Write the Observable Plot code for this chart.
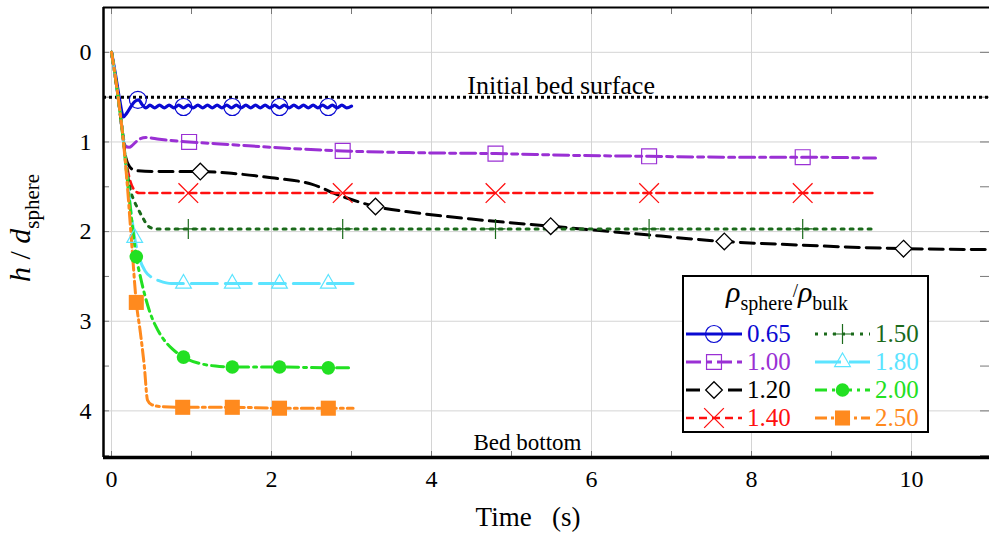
<!DOCTYPE html>
<html><head><meta charset="utf-8">
<script src="https://cdn.jsdelivr.net/npm/d3@7"></script>
<script src="https://cdn.jsdelivr.net/npm/@observablehq/plot@0.6"></script>
<style>
body{margin:0;background:#fff;}
#chart{position:relative;width:989px;height:533px;overflow:hidden;}
#chart svg text, #chart svg tspan{font-family:'Liberation Serif','Times New Roman',serif !important;}
</style></head><body><div id="chart"></div>
<script>
// ---- series names ----
const seriesNames = ["0.65","1.00","1.20","1.40","1.50","1.80","2.00","2.50"];

// ---- curves (time s, h/d_sphere) ----
const t065 = [0,0.05,0.1,0.15,0.19,0.24,0.29,0.34,0.38,0.43,0.48,0.54,0.60,0.66,0.72,0.78,0.84,0.90,0.96,1.02,1.08,1.14,1.20,1.26,1.32,1.38,1.44,1.50,1.56,1.62,1.68,1.74,1.80,1.86,1.92,1.98,2.04,2.10,2.16,2.22,2.28,2.34,2.40,2.46,2.52,2.58,2.64,2.70,2.76,2.82,2.88,2.94,3.00];
const h065 = [0,0.25,0.52,0.72,0.68,0.61,0.55,0.53,0.58,0.62,0.59,0.62,0.59,0.62,0.59,0.62,0.59,0.62,0.59,0.62,0.59,0.62,0.59,0.62,0.59,0.62,0.59,0.62,0.59,0.62,0.59,0.62,0.59,0.62,0.59,0.62,0.59,0.62,0.59,0.62,0.59,0.62,0.59,0.62,0.59,0.62,0.59,0.62,0.59,0.62,0.59,0.62,0.60];
const t100 = [0,0.06,0.1,0.14,0.17,0.22,0.27,0.33,0.43,0.6,0.97,1.5,2.0,2.89,3.8,4.8,5.8,6.72,7.7,8.64,9.55];
const h100 = [0,0.35,0.62,0.9,1.04,1.06,1.03,0.98,0.95,0.97,1.0,1.03,1.06,1.1,1.12,1.13,1.15,1.16,1.17,1.17,1.18];
const t120 = [0,0.06,0.1,0.14,0.18,0.23,0.3,0.6,1.11,1.5,2.0,2.5,2.86,3.3,3.8,4.5,5.49,6.5,7.66,8.6,9.9,11.0];
const h120 = [0,0.35,0.62,0.92,1.18,1.28,1.32,1.33,1.33,1.35,1.4,1.47,1.6,1.72,1.79,1.86,1.94,2.02,2.11,2.15,2.19,2.2];
const t140 = [0,0.06,0.1,0.14,0.19,0.24,0.29,0.35,0.96,2.89,4.8,6.72,8.64,9.55];
const h140 = [0,0.35,0.62,0.92,1.25,1.45,1.54,1.57,1.57,1.57,1.57,1.57,1.57,1.57];
const t150 = [0,0.06,0.1,0.14,0.19,0.24,0.28,0.34,0.4,0.46,0.55,0.96,2.89,4.8,6.72,8.64,9.55];
const h150 = [0,0.35,0.62,0.92,1.3,1.55,1.65,1.76,1.86,1.94,1.97,1.97,1.97,1.97,1.97,1.97,1.97];
const t180 = [0,0.06,0.1,0.14,0.19,0.24,0.29,0.35,0.42,0.5,0.6,0.75,0.9,1.51,2.1,2.71,3.02];
const h180 = [0,0.35,0.62,0.92,1.35,1.75,2.07,2.3,2.44,2.51,2.55,2.58,2.58,2.58,2.58,2.58,2.58];
const t200 = [0,0.06,0.1,0.14,0.19,0.25,0.31,0.36,0.42,0.48,0.55,0.65,0.75,0.9,1.1,1.3,1.51,2.1,2.71,3.02];
const h200 = [0,0.35,0.62,0.92,1.35,1.85,2.28,2.5,2.72,2.9,3.05,3.2,3.3,3.4,3.47,3.5,3.51,3.51,3.52,3.52];
const t250 = [0,0.06,0.1,0.14,0.19,0.25,0.31,0.36,0.41,0.45,0.5,0.6,0.89,1.51,2.1,2.71,3.02];
const h250 = [0,0.35,0.62,0.92,1.4,2.1,2.79,3.12,3.5,3.88,3.93,3.95,3.96,3.96,3.97,3.97,3.97];

// ---- marker positions ----
const mt065 = [0.33,0.9,1.51,2.1,2.71],      mh065 = [0.53,0.61,0.61,0.61,0.61];
const mt100 = [0.97,2.89,4.8,6.72,8.64],     mh100 = [1.0,1.1,1.13,1.16,1.17];
const mt120 = [1.11,3.3,5.49,7.66,9.9],      mh120 = [1.33,1.72,1.94,2.11,2.19];
const mt140 = [0.96,2.89,4.8,6.72,8.64],     mh140 = [1.57,1.57,1.57,1.57,1.57];
const mt150 = [0.96,2.89,4.8,6.72,8.64],     mh150 = [1.97,1.97,1.97,1.97,1.97];
const mt180 = [0.29,0.9,1.51,2.1,2.71],      mh180 = [2.07,2.58,2.58,2.58,2.58];
const mt200 = [0.31,0.9,1.51,2.1,2.71],      mh200 = [2.28,3.4,3.51,3.51,3.52];
const mt250 = [0.31,0.89,1.51,2.1,2.71],     mh250 = [2.79,3.96,3.96,3.97,3.97];

// ---- ticks and annotations ----
const xTicks = [0,2,4,6,8,10];
const xMinor = [0,1,2,3,4,5,6,7,8,9,10];
const yTicks = [0,1,2,3,4];
const yMinor = [0,0.5,1,1.5,2,2.5,3,3.5,4,4.5];
const bedSurface = [0.5];
const noteLabels = ["Initial bed surface","Bed bottom"];
const noteT = [5.62,5.2];
const noteH = [0.37,4.35];

// ---- styles ----
const colors = ["#0a0ad2","#9a30d4","#000000","#ff1010","#1b6a1b","#5ce4ff","#22e022","#ff8a1e"];
const dashes = [null,"15,5,6,5","14,7","8,5","3,6","26,8","12,5,3,5","12,4,3,4"];
const widths = [3.2,3,3,2.6,3,3,3,3];
const symbols = ["circle","square2","diamond2","times","plus","triangle2","circle","square"];
const symRadius = [8.5,9.5,7.5,9,6.5,7.5,6.8,8.5];
const symFill = ["none","none","white","none","none","none","#22e022","#ff8a1e"];
const symStroke = [1.2,1.2,1.3,1.3,1.2,1.2,0,0];

const T = [t065,t100,t120,t140,t150,t180,t200,t250];
const H = [h065,h100,h120,h140,h150,h180,h200,h250];
const MT = [mt065,mt100,mt120,mt140,mt150,mt180,mt200,mt250];
const MH = [mh065,mh100,mh120,mh140,mh150,mh180,mh200,mh250];

const FONT = "'Liberation Serif', 'Times New Roman', serif";
const lineMarks = [], dotMarks = [];
seriesNames.forEach((name,i)=>{
  const data = T[i].map((t,j)=>({t, h:H[i][j]}));
  const mk = MT[i].map((t,j)=>({t, h:MH[i][j]}));
  lineMarks.push(Plot.line(data,{x:"t",y:"h",stroke:colors[i],strokeWidth:widths[i],
    strokeDasharray:dashes[i]||undefined,curve:"monotone-x",clip:true}));
  dotMarks.push(Plot.dot(mk,{x:"t",y:"h",symbol:symbols[i],r:symRadius[i],
    stroke: symFill[i]==="none"||symFill[i]==="white"?colors[i]:"none",
    fill:symFill[i],strokeWidth:symStroke[i]}));
});
const notes = noteLabels.map((label,i)=>({label,t:noteT[i],h:noteH[i]}));

const plot = Plot.plot({
  width:989, height:533,
  marginLeft:103, marginRight:0, marginTop:7, marginBottom:76,
  style:{fontFamily:FONT, background:"white", color:"black"},
  x:{domain:[-0.1,10.975]},
  y:{domain:[-0.5,4.52], reverse:true},
  marks:[
    Plot.gridX(xTicks,{stroke:"#d4d4d4",strokeOpacity:1}),
    Plot.gridY(yTicks,{stroke:"#d4d4d4",strokeOpacity:1}),
    Plot.axisX(xMinor,{anchor:"bottom",tickSize:-6,tickFormat:()=>"",label:null,stroke:"#777"}),
    Plot.axisX(xMinor,{anchor:"top",tickSize:-6,tickFormat:()=>"",label:null,stroke:"#777"}),
    Plot.axisY(yMinor,{anchor:"left",tickSize:-6,tickFormat:()=>"",label:null,stroke:"#777"}),
    Plot.axisY(yMinor,{anchor:"right",tickSize:-10,tickFormat:()=>"",label:null,stroke:"#777"}),
    Plot.axisX(xTicks,{anchor:"bottom",tickSize:0,tickPadding:12,fontSize:24,label:null,tickFormat:d=>String(d)}),
    Plot.axisY(yTicks,{anchor:"left",tickSize:0,tickPadding:12,fontSize:24,label:null,tickFormat:d=>String(d)}),
    Plot.ruleY(bedSurface,{stroke:"black",strokeWidth:3,strokeDasharray:"3,3"}),
    Plot.text(notes,{x:"t",y:"h",text:"label",fontSize:d=>d.label==="Bed bottom"?23:26,fill:"black"}),
    ...lineMarks,
    ...dotMarks,
    Plot.ruleX([-0.1],{stroke:"black",strokeWidth:2.5}),
    Plot.ruleY([-0.5],{stroke:"black",strokeWidth:2}),
    Plot.ruleY([4.52],{stroke:"black",strokeWidth:3.5})
  ]
});
document.getElementById("chart").appendChild(plot);
const svg = d3.select(plot);

// x axis label
svg.append("text").attr("x",528).attr("y",526).attr("text-anchor","middle")
  .attr("font-size",27).style("white-space","pre").text("Time   (s)");

// y axis label
const yl = svg.append("text").attr("transform","translate(30,228) rotate(-90)")
  .attr("text-anchor","middle");
yl.append("tspan").attr("font-style","italic").attr("font-size",30).text("h");
yl.append("tspan").attr("font-size",30).style("white-space","pre").text(" / ");
yl.append("tspan").attr("font-style","italic").attr("font-size",30).text("d");
yl.append("tspan").attr("font-size",21).attr("dy",9).text("sphere");

// legend
const lg = svg.append("g");
lg.append("rect").attr("x",683).attr("y",276).attr("width",245).attr("height",156)
  .attr("fill","white").attr("stroke","black").attr("stroke-width",2);
const tt = lg.append("text").attr("x",787).attr("y",302).attr("text-anchor","middle");
tt.append("tspan").attr("font-style","italic").attr("font-size",30).text("ρ");
tt.append("tspan").attr("font-size",20).attr("dy",8).text("sphere");
tt.append("tspan").attr("font-size",19).attr("dy",-13).text("/");
tt.append("tspan").attr("font-style","italic").attr("font-size",30).attr("dy",5).text("ρ");
tt.append("tspan").attr("font-size",20).attr("dy",8).text("bulk");

const d3sym = {circle:d3.symbolCircle,square2:d3.symbolSquare2,diamond2:d3.symbolDiamond2,
  times:d3.symbolTimes,plus:d3.symbolPlus,triangle2:d3.symbolTriangle2,square:d3.symbolSquare};
const rowY = [334,362,390,418];
seriesNames.forEach((name,i)=>{
  const col = i<4?0:1, row = i%4;
  const x0 = col?815:686, x1 = col?870:742, y = rowY[row];
  lg.append("line").attr("x1",x0).attr("x2",x1).attr("y1",y).attr("y2",y)
    .attr("stroke",colors[i]).attr("stroke-width",widths[i])
    .attr("stroke-dasharray",dashes[i]||null);
  const f = symFill[i];
  lg.append("path").attr("transform",`translate(${(x0+x1)/2},${y})`)
    .attr("d",d3.symbol(d3sym[symbols[i]],Math.PI*symRadius[i]*symRadius[i])())
    .attr("fill",f).attr("stroke",(f==="none"||f==="white")?colors[i]:"none")
    .attr("stroke-width",symStroke[i]);
  lg.append("text").attr("x",col?875:747).attr("y",y+8).attr("font-size",25)
    .attr("text-anchor","start").attr("fill",colors[i]).text(name);
});
svg.selectAll("text").style("font-family",FONT);
</script>
</body></html>
